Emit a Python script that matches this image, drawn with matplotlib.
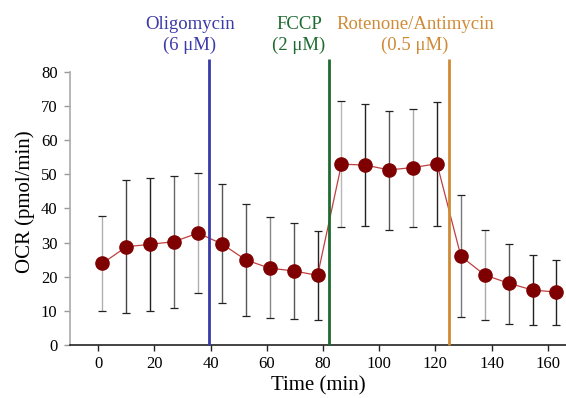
import matplotlib
matplotlib.use("Agg")
import matplotlib.pyplot as plt

# Seahorse-style OCR trace
time_min = [1.5, 10.1, 18.6, 27.1, 35.6, 44.1, 52.6, 61.1, 69.6, 78.1,
            86.6, 95.1, 103.6, 112.1, 120.6, 129.1, 137.6, 146.1, 154.6, 163.1]
ocr_mean = [23.9, 28.8, 29.5, 30.3, 32.8, 29.6, 24.9, 22.5, 21.7, 20.4,
            53.0, 52.7, 51.3, 52.0, 53.1, 26.0, 20.5, 18.1, 16.1, 15.5]
ocr_upper = [37.8, 48.4, 48.9, 49.6, 50.3, 47.2, 41.3, 37.4, 35.8, 33.5,
             71.6, 70.7, 68.6, 69.0, 71.2, 44.0, 33.7, 29.6, 26.3, 25.0]
ocr_lower = [10.0, 9.4, 10.0, 10.9, 15.3, 12.3, 8.6, 7.8, 7.5, 7.3,
             34.6, 34.8, 33.7, 34.6, 34.8, 8.1, 7.3, 6.2, 6.0, 6.0]

injection_times = [39.5, 82.3, 124.7]
injection_names = ["Oligomycin\n(6 \u03bcM)", "FCCP\n(2 \u03bcM)",
                   "Rotenone/Antimycin\n(0.5 \u03bcM)"]
injection_label_x = [32.7, 71.5, 112.8]

x_ticks = [0, 20, 40, 60, 80, 100, 120, 140, 160]
y_ticks = [0, 10, 20, 30, 40, 50, 60, 70, 80]

inj_colors = ["#3a3aa8", "#1e6b30", "#cf8a35"]
# stems render in varying greys in the original (thin lines, antialiasing)
bar_colors = ["#b0b0b0", "#444444", "#222222", "#666666", "#b0b0b0",
              "#555555", "#555555", "#888888", "#555555", "#222222",
              "#b8b8b8", "#222222", "#555555", "#aaaaaa", "#222222",
              "#777777", "#aaaaaa", "#555555", "#222222", "#222222"]

plt.rcParams["font.family"] = ["Liberation Serif", "DejaVu Serif"]

fig = plt.figure(figsize=(5.66, 3.98), dpi=100)
ax = fig.add_axes([0.1237, 0.1332, 0.8763, 0.7186])

for t, m, lo, hi, c in zip(time_min, ocr_mean, ocr_lower, ocr_upper, bar_colors):
    err = [[m - lo], [hi - m]]
    ax.errorbar([t], [m], yerr=err, fmt="none", ecolor=c,
                elinewidth=1.0, capsize=0, zorder=2)
    # caps in near-black
    ax.errorbar([t], [m], yerr=err, fmt="none", ecolor="#222222",
                elinewidth=0, capsize=3.2, capthick=0.9, zorder=2)

ax.plot(time_min, ocr_mean, color="#c04040", linewidth=0.9, zorder=3)
ax.plot(time_min, ocr_mean, linestyle="none", marker="o", markersize=9.5,
        markerfacecolor="#7f0000", markeredgecolor="#7f0000", zorder=4)

for t, name, lx, c in zip(injection_times, injection_names, injection_label_x, inj_colors):
    ax.vlines(t, 0, 83.8, color=c, linewidth=2, zorder=5, clip_on=False)
    ax.text(lx, 85.3, name, color=c, ha="center", va="bottom",
            fontsize=13.5, linespacing=1.3, clip_on=False)

ax.set_xlim(-10, 166.5)
ax.set_ylim(0, 83.8)
ax.set_xticks(x_ticks)
ax.set_yticks(y_ticks)
ax.tick_params(axis="x", labelsize=12, direction="out", length=4,
               width=1, color="#222222", pad=4)
ax.tick_params(axis="y", labelsize=12, direction="out", length=4,
               width=1, color="#999999", pad=5)

for side in ["top", "right"]:
    ax.spines[side].set_visible(False)
ax.spines["left"].set_color("#aaaaaa")
ax.spines["left"].set_linewidth(1.2)
ax.spines["left"].set_bounds(0, 80)
ax.spines["bottom"].set_color("#222222")
ax.spines["bottom"].set_linewidth(1.2)

ax.set_xlabel("Time (min)", fontsize=15, labelpad=3)
ax.set_ylabel("OCR (pmol/min)", fontsize=15, labelpad=4)

fig.savefig("out.png", dpi=100)
